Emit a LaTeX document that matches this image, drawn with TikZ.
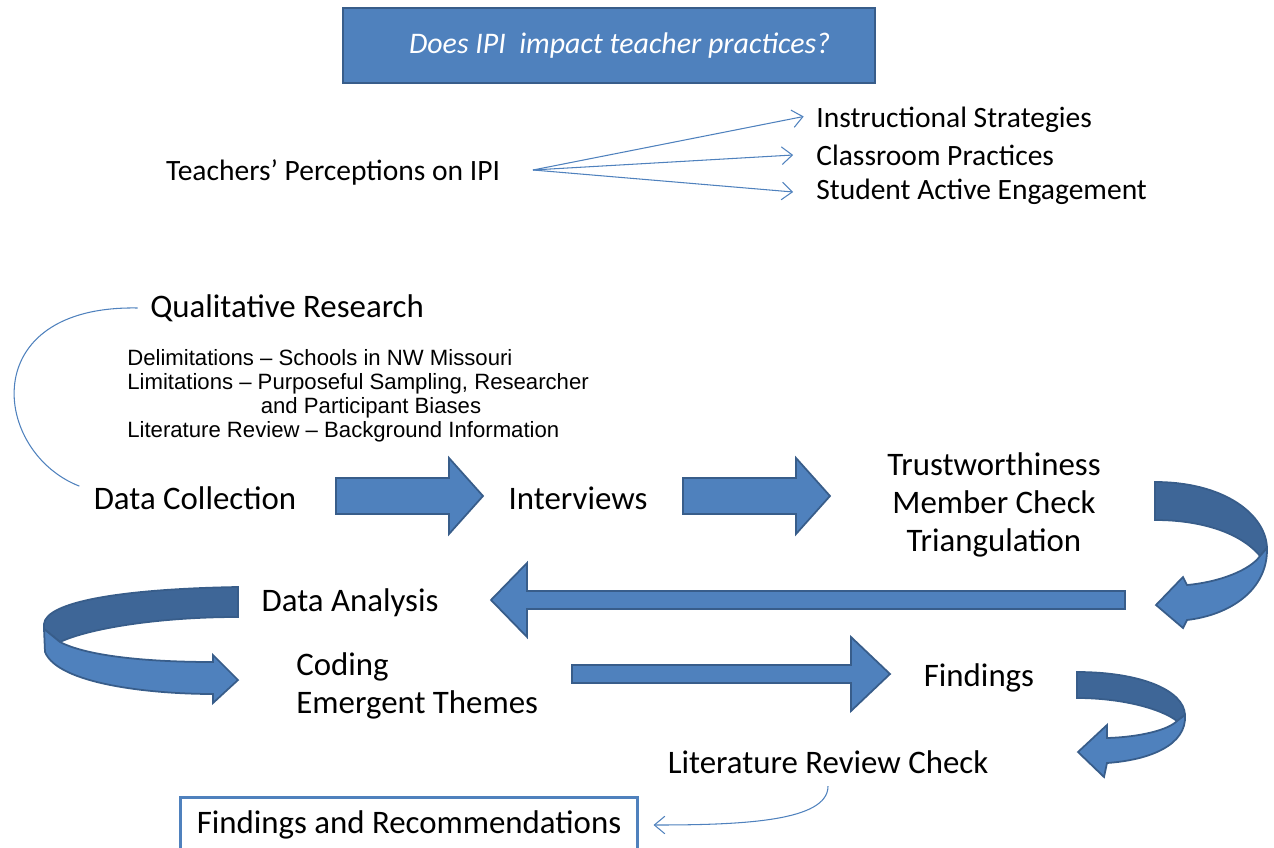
\documentclass[tikz,border=0pt]{standalone}
\usepackage{fontspec}
\setmainfont{Carlito}
\newfontfamily\arialfont{Liberation Sans}
\usetikzlibrary{arrows.meta}

\definecolor{boxblue}{HTML}{4F81BD}
\definecolor{boxedge}{HTML}{385D8A}
\definecolor{bandblue}{HTML}{3E6697}

\tikzset{
  txt/.style={inner sep=0pt, font=\fontsize{18.7}{21.5}\selectfont},
  toptxt/.style={inner sep=0pt, font=\fontsize{16.8}{20}\selectfont},
  smalltxt/.style={inner sep=0pt, align=left, font=\arialfont\fontsize{12.6}{13.6}\selectfont},
  question/.style={draw=boxedge, fill=boxblue, line width=1.2pt, text=white,
    minimum width=10.64cm, minimum height=1.5cm,
    font=\itshape\fontsize{17}{20}\selectfont},
  result/.style={draw=boxblue, fill=white, line width=1.7pt,
    minimum width=9.16cm, minimum height=1.12cm, font=\fontsize{18.7}{21.5}\selectfont},
  blockarrow/.style={draw=boxedge, fill=boxblue, line width=1pt, line join=miter},
  backband/.style={draw=boxedge, fill=bandblue, line width=1pt},
  frontband/.style={draw=boxedge, fill=boxblue, line width=1pt},
  thinline/.style={draw=boxblue, line width=0.6pt},
  thinarrow/.style={thinline, ->}
}

\begin{document}
\begin{tikzpicture}[x=0.02cm,y=-0.02cm,>={Straight Barb[length=6pt,width=10pt]}]
  \useasboundingbox (0,0) rectangle (1274,848);

  % question and perceptions
  \node[question] (q) at (609,45.5) {\hspace*{12pt}Does IPI\ \ impact teacher practices?};
  \node[toptxt] (perc) at (333,172) {Teachers' Perceptions on IPI};
  \node[toptxt, anchor=west] (strat) at (816,120) {Instructional Strategies};
  \node[toptxt, anchor=west] (prac) at (816,155) {Classroom Practices};
  \node[toptxt, anchor=west] (engage) at (816,192) {Student Active Engagement};
  \coordinate (fan) at (533,170);
  \draw[thinarrow] (fan) -- ([xshift=-7pt,yshift=2pt]strat.west);
  \draw[thinarrow] (fan) -- ([xshift=-13pt]prac.west);
  \draw[thinarrow] (fan) -- ([xshift=-13pt]engage.west);

  % research design
  \node[txt, anchor=west] (qual) at (150,308) {Qualitative Research};
  \node[smalltxt, anchor=north west] (limits) at (127,349)
    {Delimitations – Schools in NW Missouri\\
     Limitations – Purposeful Sampling, Researcher\\
     \hspace*{76pt}and Participant Biases\\
     Literature Review – Background Information};

  \node[txt] (collect) at (195,498) {Data Collection};
  \node[txt] (interv) at (578,498) {Interviews};
  \node[txt, align=center] (trust) at (994,505) {Trustworthiness\\Member Check\\Triangulation};
  \node[txt] (analysis) at (350,603) {Data Analysis};
  \node[txt, align=left, anchor=west] (coding) at (296,686) {Coding\\Emergent Themes};
  \node[txt] (findings) at (979,678) {Findings};
  \node[txt] (litcheck) at (828,762) {Literature Review Check};
  \node[result] (findrec) at (409,825) {Findings and Recommendations};

  \draw[thinline] ([xshift=-7pt]qual.west) .. controls (-25,305) and (-8,452) .. ([xshift=-8pt]collect.north west);

  % block arrows
  \draw[blockarrow] (336,478) -- (449,478) -- (449,458) -- (483,496) -- (449,534) -- (449,514) -- (336,514) -- cycle;
  \draw[blockarrow] (683,478) -- (796,478) -- (796,458) -- (830,496) -- (796,534) -- (796,514) -- (683,514) -- cycle;
  \draw[blockarrow] (1125,591) -- (527,591) -- (527,563) -- (491,600) -- (527,637) -- (527,609) -- (1125,609) -- cycle;
  \draw[blockarrow] (572,665) -- (851,665) -- (851,637) -- (890,674) -- (851,711) -- (851,683) -- (572,683) -- cycle;

  % u-turn after trustworthiness
  \draw[backband] (1155,482) .. controls (1225,482) and (1266,515) .. (1267,548) -- (1260,556)
    .. controls (1240,532) and (1200,520) .. (1155,520) -- cycle;
  \draw[frontband] (1267,548) .. controls (1268,590) and (1230,615) .. (1187,620) -- (1183,628)
    -- (1156,605) -- (1183,577) -- (1187,585) .. controls (1220,582) and (1250,570) .. (1260,556) -- cycle;

  % u-turn after data analysis
  \draw[backband] (238,587) .. controls (120,589) and (46,602) .. (44,624) -- (44,629)
    -- (60,642) .. controls (90,628) and (160,617) .. (238,617) -- cycle;
  \draw[frontband] (44,629) -- (45,652) .. controls (58,684) and (150,694) .. (213,694) -- (213,703)
    -- (238,680) -- (213,655) -- (213,662) .. controls (140,662) and (85,655) .. (60,642) -- cycle;

  % u-turn after findings
  \draw[backband] (1077,672) .. controls (1140,672) and (1184,690) .. (1185,715) -- (1177,721)
    .. controls (1160,708) and (1120,698) .. (1077,698) -- cycle;
  \draw[frontband] (1185,715) .. controls (1187,745) and (1150,760) .. (1107,763) -- (1104,777)
    -- (1078,752) -- (1107,725) -- (1107,738) .. controls (1140,737) and (1168,730) .. (1177,721) -- cycle;

  \draw[thinarrow] ([yshift=-7pt]litcheck.south) .. controls +(0,35) and +(90,0) .. ([xshift=8pt]findrec.east);
\end{tikzpicture}
\end{document}
